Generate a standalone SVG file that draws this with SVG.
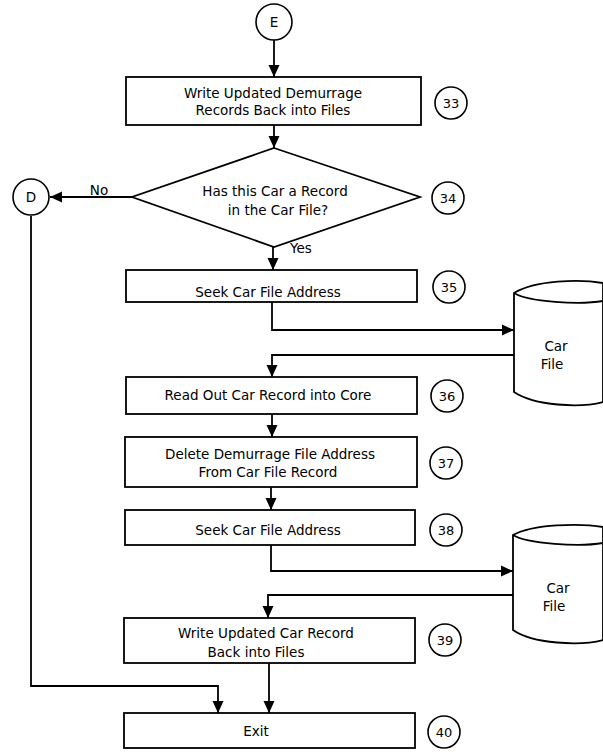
<svg xmlns="http://www.w3.org/2000/svg" width="603" height="752" viewBox="0 0 603 752">
  <defs>
    <marker id="arrow" viewBox="0 0 12 12" refX="12" refY="6" markerWidth="12" markerHeight="12" markerUnits="userSpaceOnUse" orient="auto">
      <path d="M0,0.5 L12,6 L0,11.5 Z" fill="#000"/>
    </marker>
    <style>
      .box { fill: #fff; stroke: #000; stroke-width: 1.8; }
      .ref { fill: #fff; stroke: #000; stroke-width: 1.6; }
      .line { fill: none; stroke: #000; stroke-width: 1.8; }
      .txt { font-family: "DejaVu Sans", "Liberation Sans", sans-serif; font-size: 13.5px; fill: #000; text-anchor: middle; }
      .num { font-family: "DejaVu Sans", "Liberation Sans", sans-serif; font-size: 13px; fill: #000; text-anchor: middle; }
    </style>
  </defs>
  <rect width="603" height="752" fill="#fff"/>

  <!-- flow lines -->
  <g id="connectors">
    <line class="line" x1="274" y1="40" x2="274" y2="77" marker-end="url(#arrow)"/>
    <line class="line" x1="274" y1="125" x2="274" y2="148" marker-end="url(#arrow)"/>
    <line class="line" x1="132" y1="197" x2="50" y2="197" marker-end="url(#arrow)"/>
    <line class="line" x1="273" y1="247" x2="273" y2="270" marker-end="url(#arrow)"/>
    <polyline class="line" points="272,302 272,330 514,330" marker-end="url(#arrow)"/>
    <polyline class="line" points="514,355 272,355 272,377" marker-end="url(#arrow)"/>
    <line class="line" x1="272" y1="414" x2="272" y2="437" marker-end="url(#arrow)"/>
    <line class="line" x1="271" y1="487" x2="271" y2="510" marker-end="url(#arrow)"/>
    <polyline class="line" points="271,545 271,571 513,571" marker-end="url(#arrow)"/>
    <polyline class="line" points="513,595 268,595 268,618" marker-end="url(#arrow)"/>
    <line class="line" x1="269" y1="663" x2="269" y2="713" marker-end="url(#arrow)"/>
    <polyline class="line" points="31,216 31,686 218,686 218,713" marker-end="url(#arrow)"/>
    <text class="txt" x="99" y="195">No</text>
    <text class="txt" x="301" y="253">Yes</text>
  </g>

  <!-- connector E -->
  <g id="node-E">
    <circle class="ref" cx="274" cy="22" r="18"/>
    <text class="txt" x="274" y="27">E</text>
  </g>

  <!-- step 33 -->
  <g id="node-33">
    <rect class="box" x="126" y="77" width="295" height="48"/>
    <text class="txt" x="273" y="98">Write Updated Demurrage</text>
    <text class="txt" x="273" y="115">Records Back into Files</text>
    <circle class="ref" cx="451" cy="103" r="16"/>
    <text class="num" x="451" y="108">33</text>
  </g>

  <!-- decision 34 -->
  <g id="node-34">
    <polygon class="box" points="274,148 420,197 274,247 132,197"/>
    <text class="txt" x="275" y="196">Has this Car a Record</text>
    <text class="txt" x="278" y="215">in the Car File?</text>
    <circle class="ref" cx="448" cy="198" r="16"/>
    <text class="num" x="448" y="203">34</text>
  </g>

  <!-- connector D -->
  <g id="node-D">
    <circle class="ref" cx="31" cy="197" r="18"/>
    <text class="txt" x="31" y="202">D</text>
  </g>

  <!-- step 35 -->
  <g id="node-35">
    <rect class="box" x="126" y="270" width="291" height="32"/>
    <text class="txt" x="268" y="297">Seek Car File Address</text>
    <circle class="ref" cx="449" cy="287" r="16"/>
    <text class="num" x="449" y="292">35</text>
  </g>

  <!-- car file, first access -->
  <g id="node-carfile-1">
    <path class="box" d="M514,293 C535,280 580,279 603,283 L603,402 C580,408 535,406 514,392 Z"/>
    <path class="line" d="M514,293 C528,302 580,305 603,301"/>
    <text class="txt" x="556" y="351">Car</text>
    <text class="txt" x="552" y="369">File</text>
  </g>

  <!-- step 36 -->
  <g id="node-36">
    <rect class="box" x="126" y="377" width="291" height="37"/>
    <text class="txt" x="268" y="400">Read Out Car Record into Core</text>
    <circle class="ref" cx="447" cy="396" r="16"/>
    <text class="num" x="447" y="401">36</text>
  </g>

  <!-- step 37 -->
  <g id="node-37">
    <rect class="box" x="125" y="437" width="292" height="50"/>
    <text class="txt" x="270" y="459">Delete Demurrage File Address</text>
    <text class="txt" x="268" y="477">From Car File Record</text>
    <circle class="ref" cx="446" cy="463" r="16"/>
    <text class="num" x="446" y="468">37</text>
  </g>

  <!-- step 38 -->
  <g id="node-38">
    <rect class="box" x="125" y="510" width="290" height="35"/>
    <text class="txt" x="268" y="535">Seek Car File Address</text>
    <circle class="ref" cx="446" cy="530" r="16"/>
    <text class="num" x="446" y="535">38</text>
  </g>

  <!-- car file, second access -->
  <g id="node-carfile-2">
    <path class="box" d="M513,535 C533,524 580,523 603,527 L603,640 C580,646 533,644 513,630 Z"/>
    <path class="line" d="M513,535 C527,544 580,547 603,543"/>
    <text class="txt" x="558" y="593">Car</text>
    <text class="txt" x="554" y="611">File</text>
  </g>

  <!-- step 39 -->
  <g id="node-39">
    <rect class="box" x="124" y="618" width="291" height="45"/>
    <text class="txt" x="266" y="638">Write Updated Car Record</text>
    <text class="txt" x="256" y="657">Back into Files</text>
    <circle class="ref" cx="445" cy="640" r="16"/>
    <text class="num" x="445" y="645">39</text>
  </g>

  <!-- step 40 -->
  <g id="node-40">
    <rect class="box" x="124" y="713" width="291" height="35"/>
    <text class="txt" x="256" y="736">Exit</text>
    <circle class="ref" cx="444" cy="732" r="16"/>
    <text class="num" x="444" y="737">40</text>
  </g>
</svg>
